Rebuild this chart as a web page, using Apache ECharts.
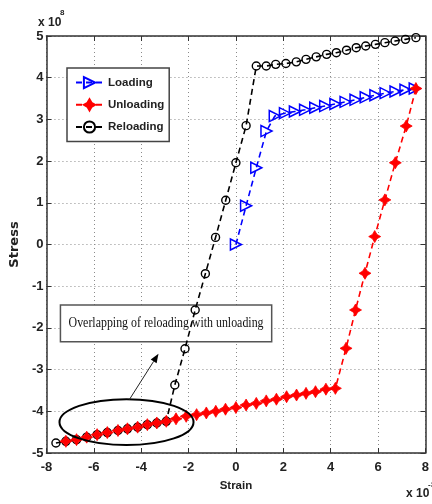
<!DOCTYPE html>
<html>
<head>
<meta charset="utf-8">
<script src="https://cdn.jsdelivr.net/npm/echarts@6/dist/echarts.min.js"></script>
<style>
  html, body { margin: 0; padding: 0; background: #fff; }
  #chart { width: 432px; height: 504px; }
</style>
</head>
<body>
<div id="chart"></div>
<script>
// Strain is plotted in units of 1e-3, stress in units of 1e8.
const xTicks = [-8, -6, -4, -2, 0, 2, 4, 6, 8];
const yTicks = [-5, -4, -3, -2, -1, 0, 1, 2, 3, 4, 5];

const loadingStrain = [0, 0.43, 0.86, 1.29, 1.64, 2.07, 2.49, 2.92, 3.35, 3.77, 4.20, 4.63, 5.05, 5.48, 5.89, 6.32, 6.74, 7.16, 7.55];
const loadingStress = [0, 0.93, 1.84, 2.72, 3.08, 3.15, 3.19, 3.23, 3.28, 3.32, 3.37, 3.42, 3.47, 3.53, 3.58, 3.63, 3.67, 3.71, 3.74];

const unloadingStrain = [7.6, 7.19, 6.73, 6.29, 5.86, 5.45, 5.05, 4.65, 4.2, 3.8, 3.36, 2.96, 2.56, 2.14, 1.71, 1.28, 0.86, 0.43, 0, -0.44, -0.85, -1.25, -1.66, -2.1, -2.53, -2.94, -3.34, -3.74, -4.15, -4.58, -4.98, -5.43, -5.86, -6.3, -6.73, -7.18];
const unloadingStress = [3.74, 2.84, 1.96, 1.07, 0.19, -0.69, -1.57, -2.49, -3.45, -3.47, -3.53, -3.57, -3.61, -3.65, -3.71, -3.75, -3.81, -3.85, -3.91, -3.95, -4.0, -4.04, -4.08, -4.12, -4.18, -4.24, -4.28, -4.32, -4.38, -4.42, -4.46, -4.51, -4.56, -4.62, -4.68, -4.72];

const reloadingStrain = [-7.6, -7.18, -6.73, -6.3, -5.86, -5.43, -4.98, -4.58, -4.15, -3.74, -3.34, -2.94, -2.58, -2.15, -1.72, -1.29, -0.86, -0.43, 0, 0.43, 0.86, 1.28, 1.68, 2.11, 2.55, 2.96, 3.39, 3.83, 4.24, 4.67, 5.08, 5.48, 5.89, 6.29, 6.72, 7.16, 7.6];
const reloadingStress = [-4.76, -4.72, -4.68, -4.62, -4.56, -4.51, -4.46, -4.42, -4.38, -4.32, -4.28, -4.24, -3.37, -2.5, -1.57, -0.7, 0.17, 1.06, 1.96, 2.85, 4.28, 4.28, 4.32, 4.34, 4.38, 4.44, 4.5, 4.56, 4.6, 4.66, 4.72, 4.76, 4.8, 4.84, 4.88, 4.92, 4.96];

const legendNames = ['Loading', 'Unloading', 'Reloading'];
const noteText = 'Overlapping of reloading with unloading';

// Annotation geometry, in data units
const noteBox = { x0: -7.41, y0: -1.45, x1: 1.51, y1: -2.33 };
const ring = { cx: -4.62, cy: -4.26, rx: 2.83, ry: 0.55 };
const pointer = { from: [-4.5, -3.72], to: [-3.27, -2.62] };

const zip = (xs, ys) => xs.map((x, i) => [x, ys[i]]);

const sans = '"Liberation Sans", Arial, sans-serif';
const axisColor = '#333';
const gridStyle = { type: [1, 3], color: '#8a8a8a', width: 1 };
const dash = [6, 4];
const starPath = 'path://M0,-6 L2.2,-2.2 L6,0 L2.2,2.2 L0,6 L-2.2,2.2 L-6,0 L-2.2,-2.2 Z';

const xMin = xTicks[0], xMax = xTicks[xTicks.length - 1];
const yMin = yTicks[0], yMax = yTicks[yTicks.length - 1];

const baseAxis = {
  type: 'value',
  axisLine: { show: true, onZero: false, lineStyle: { color: axisColor, width: 1.5 } },
  axisTick: { show: true, inside: true, length: 5, lineStyle: { color: axisColor, width: 1 } }
};

const chart = echarts.init(document.getElementById('chart'), null, { renderer: 'canvas' });

chart.setOption({
  animation: false,
  backgroundColor: '#fff',
  grid: { left: 38, right: -2, top: 36, bottom: 51, containLabel: false },
  legend: {
    orient: 'vertical',
    left: 67, top: 68,
    padding: [8, 5, 8, 8],
    itemGap: 9,
    itemWidth: 27,
    itemHeight: 14,
    backgroundColor: '#fff',
    borderColor: '#444',
    borderWidth: 1.5,
    borderRadius: 0,
    textStyle: { fontFamily: sans, fontWeight: 'bold', fontSize: 11.5, color: '#222' },
    data: legendNames
  },
  xAxis: [
    Object.assign({}, baseAxis, {
      position: 'bottom', min: xMin, max: xMax, interval: 2,
      axisLabel: { margin: 8, fontFamily: sans, fontWeight: 'bold', fontSize: 13, color: '#222' },
      splitLine: { show: true, lineStyle: gridStyle },
      name: 'Strain', nameLocation: 'middle', nameGap: 27,
      nameTextStyle: { fontFamily: sans, fontWeight: 'bold', fontSize: 11.5, color: '#222' }
    }),
    Object.assign({}, baseAxis, {
      position: 'top', min: xMin, max: xMax, interval: 2,
      axisLabel: { show: false }, splitLine: { show: false }
    })
  ],
  yAxis: [
    Object.assign({}, baseAxis, {
      position: 'left', min: yMin, max: yMax, interval: 1,
      axisLabel: { margin: 3, fontFamily: sans, fontWeight: 'bold', fontSize: 13, color: '#222' },
      splitLine: { show: true, lineStyle: gridStyle },
      name: 'Stress', nameLocation: 'middle', nameGap: 16, nameRotate: 90,
      nameTextStyle: { fontFamily: 'DejaVu Sans', fontWeight: 'bold', fontSize: 13, color: '#222' }
    }),
    Object.assign({}, baseAxis, {
      position: 'right', min: yMin, max: yMax, interval: 1,
      axisLabel: { show: false }, splitLine: { show: false }
    })
  ],
  series: [
    {
      name: 'Loading', type: 'line', data: zip(loadingStrain, loadingStress),
      symbol: 'triangle', symbolRotate: -90, symbolSize: 11, showAllSymbol: true,
      lineStyle: { color: '#0000ff', width: 1.6, type: dash },
      itemStyle: { color: 'rgba(255,255,255,0)', borderColor: '#0000ff', borderWidth: 1.5 },
      z: 3
    },
    {
      name: 'Reloading', type: 'line', data: zip(reloadingStrain, reloadingStress),
      symbol: 'circle', symbolSize: 8, showAllSymbol: true,
      lineStyle: { color: '#000', width: 1.6, type: dash },
      itemStyle: { color: 'rgba(255,255,255,0)', borderColor: '#000', borderWidth: 1.4 },
      z: 3
    },
    {
      name: 'Unloading', type: 'line', data: zip(unloadingStrain, unloadingStress),
      symbol: starPath, symbolSize: 12, showAllSymbol: true,
      lineStyle: { color: '#ff0000', width: 1.6, type: dash },
      itemStyle: { color: '#ff0000', borderColor: '#ff0000', borderWidth: 0.8 },
      z: 3
    }
  ]
});

// Annotation layer placed through the chart's own coordinate conversion
function px(x, y) { return chart.convertToPixel({ gridIndex: 0 }, [x, y]); }

const b0 = px(noteBox.x0, noteBox.y0);
const b1 = px(noteBox.x1, noteBox.y1);
const c = px(ring.cx, ring.cy);
const cr = px(ring.cx + ring.rx, ring.cy + ring.ry);
const p0 = px(pointer.from[0], pointer.from[1]);
const p1 = px(pointer.to[0], pointer.to[1]);

const ang = Math.atan2(p1[1] - p0[1], p1[0] - p0[0]);
const headLen = 9, headHalf = 3.5;
const base = [p1[0] - headLen * Math.cos(ang), p1[1] - headLen * Math.sin(ang)];
const head = [
  p1,
  [base[0] + headHalf * Math.sin(ang), base[1] - headHalf * Math.cos(ang)],
  [base[0] - headHalf * Math.sin(ang), base[1] + headHalf * Math.cos(ang)]
];

const textScale = 0.85;
const textCx = (b0[0] + b1[0]) / 2;
const textCy = (b0[1] + b1[1]) / 2;

chart.setOption({
  graphic: [
    {
      type: 'rect', z: 1,
      shape: { x: b0[0], y: b0[1], width: b1[0] - b0[0], height: b1[1] - b0[1] },
      style: { fill: '#fff', stroke: '#555', lineWidth: 1.5 }
    },
    {
      type: 'text', z: 1,
      x: textCx, y: textCy, scaleX: textScale, scaleY: 1,
      style: {
        text: noteText, x: 0, y: 0, align: 'center', verticalAlign: 'middle',
        font: '14px "Liberation Serif", "Times New Roman", serif', fill: '#111'
      }
    },
    {
      type: 'ellipse', z: 5,
      shape: { cx: c[0], cy: c[1], rx: cr[0] - c[0], ry: c[1] - cr[1] },
      style: { fill: 'none', stroke: '#000', lineWidth: 2 }
    },
    {
      type: 'line', z: 5,
      shape: { x1: p0[0], y1: p0[1], x2: base[0], y2: base[1] },
      style: { stroke: '#222', lineWidth: 1 }
    },
    {
      type: 'polygon', z: 5,
      shape: { points: head },
      style: { fill: '#000' }
    },
    {
      type: 'text', z: 5, left: 38, top: 17,
      style: { text: 'x 10', font: 'bold 12px ' + sans, fill: '#222' }
    },
    {
      type: 'text', z: 5, left: 60, top: 9,
      style: { text: '8', font: 'bold 8px ' + sans, fill: '#222' }
    },
    {
      type: 'text', z: 5, left: 406, top: 488,
      style: { text: 'x 10', font: 'bold 12px ' + sans, fill: '#222' }
    },
    {
      type: 'text', z: 5, left: 428, top: 481,
      style: { text: '-3', font: 'bold 8px ' + sans, fill: '#222' }
    }
  ]
});
</script>
</body>
</html>
